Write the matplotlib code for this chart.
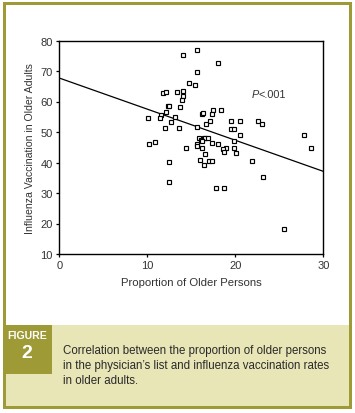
import matplotlib
matplotlib.use("Agg")
import matplotlib.pyplot as plt
from matplotlib.patches import Rectangle
import numpy as np

plt.rcParams['font.family'] = ['Liberation Sans', 'DejaVu Sans']

# proportion of older persons (%) / influenza vaccination in older adults (%)
prop_older = [14.1, 15.7, 18.0, 15.7, 14.8, 15.4, 11.8, 12.1, 13.4, 14.1,
              14.1, 13.9, 12.4, 12.5, 13.7, 12.1, 11.6, 11.5, 10.1, 13.2,
              12.7, 12.0, 13.6, 15.7, 16.2, 16.3, 17.5, 18.4, 17.4, 17.1,
              16.7, 19.5, 20.5, 22.6, 23.0, 19.5, 19.9, 20.5, 27.8, 15.9,
              16.4, 16.6, 16.9, 16.1, 16.2, 19.9, 17.4, 18.0, 19.0, 18.6,
              18.7, 19.8, 20.1, 15.6, 15.6, 16.2, 14.4, 10.2, 10.9, 16.6,
              16.0, 17.0, 17.4, 16.5, 12.5, 12.5, 17.8, 18.7, 21.9, 23.2,
              25.5, 28.6]
vacc_older = [75.3, 77.0, 72.7, 69.6, 66.2, 65.5, 62.8, 63.2, 63.2, 63.4,
              61.9, 60.6, 58.5, 58.5, 58.3, 56.7, 55.6, 54.6, 54.5, 54.9,
              53.4, 51.4, 51.2, 51.7, 55.9, 56.1, 57.3, 57.3, 55.9, 53.7,
              52.7, 53.5, 53.5, 53.6, 52.6, 51.1, 51.1, 49.1, 49.1, 48.0,
              48.0, 47.9, 48.0, 47.4, 47.0, 47.0, 46.3, 46.2, 44.9, 44.3,
              43.3, 44.8, 43.0, 46.1, 45.5, 44.9, 44.9, 46.2, 46.8, 42.7,
              40.9, 40.6, 40.6, 39.3, 40.2, 33.7, 31.6, 31.6, 40.6, 35.3,
              18.3, 44.7]

fit_intercept = 67.7
fit_slope = -1.02
fit_range = [0, 30]

caption = ("Correlation between the proportion of older persons\n"
           "in the physician\u2019s list and influenza vaccination rates\n"
           "in older adults.")

W, H = 355, 414
fig = plt.figure(figsize=(W / 100, H / 100), dpi=100)


def fx(px):
    return px / W


def fy(py):
    return 1 - py / H


olive = '#9e9a35'
pale = '#e8e5b6'

# frame around the whole figure
for (x0, y0, x1, y1, c) in [(3, 3, 352, 410, olive),
                            (6, 6, 349, 326, 'white'),
                            (6, 326, 349, 407, pale),
                            (6, 326, 52, 375, olive)]:
    fig.patches.append(Rectangle((fx(x0), fy(y1)), (x1 - x0) / W, (y1 - y0) / H,
                                 transform=fig.transFigure, facecolor=c,
                                 edgecolor='none', zorder=-5))

fig.text(fx(27), fy(336), "FIGURE", color='white', fontsize=7.6,
         fontweight='bold', ha='center', va='center')
fig.text(fx(27), fy(354), "2", color='white', fontsize=14,
         fontweight='bold', ha='center', va='center')
fig.text(fx(63), fy(366), caption, color='#2a2a2a', fontsize=8.3,
         ha='left', va='center', linespacing=1.33)

ax = fig.add_axes([fx(59.2), fy(255), (323.3 - 59.2) / W, (255 - 41.5) / H])
ax.set_facecolor('white')

ax.plot(prop_older, vacc_older, linestyle='none', marker='s', markersize=3.3,
        markerfacecolor='white', markeredgecolor='black', markeredgewidth=0.85,
        zorder=3)
xs = np.array(fit_range, dtype=float)
ax.plot(xs, fit_intercept + fit_slope * xs, color='black', linewidth=0.9,
        zorder=2)

ax.text(21.9, 62.4, "P", fontsize=7.8, fontstyle='italic', color='#333333',
        ha='left', va='center')
ax.text(22.6, 62.4, "<.001", fontsize=7.8, color='#333333',
        ha='left', va='center')

ax.set_xlim(0, 30)
ax.set_ylim(10, 80)
ax.set_xticks([0, 10, 20, 30])
ax.set_yticks(range(10, 81, 10))
ax.tick_params(labelsize=8, length=2.5, width=0.9, colors='black',
               labelcolor='#333333', pad=2)
for s in ax.spines.values():
    s.set_linewidth(1.0)

ax.set_xlabel("Proportion of Older Persons", fontsize=8.2, color='#333333',
              labelpad=5)
ax.set_ylabel("Influenza Vaccination in Older Adults", fontsize=7.6,
              color='#333333', labelpad=4)

fig.savefig("out.png", dpi=100)
